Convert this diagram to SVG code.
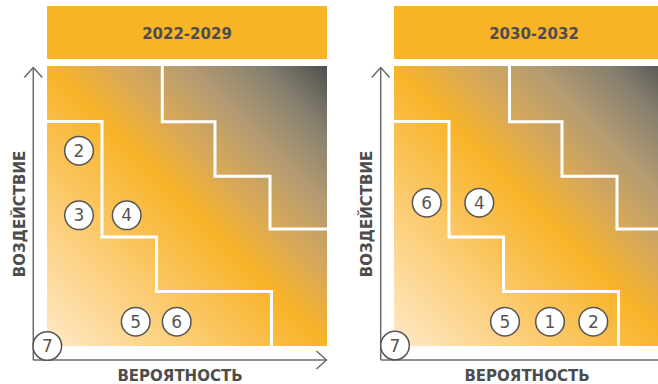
<svg xmlns="http://www.w3.org/2000/svg" width="658" height="384" viewBox="0 0 658 384">
  <defs>
    <linearGradient id="heat" x1="0" y1="1" x2="1" y2="0">
      <stop offset="0" stop-color="#ffe9c8"/>
      <stop offset="0.5" stop-color="#f8b328"/>
      <stop offset="0.62" stop-color="#d9a958"/>
      <stop offset="0.75" stop-color="#b49b72"/>
      <stop offset="0.88" stop-color="#86806f"/>
      <stop offset="1" stop-color="#4f4f4f"/>
    </linearGradient>
    <marker id="chev" viewBox="0 0 12 20" refX="11" refY="10" markerWidth="12" markerHeight="20" markerUnits="userSpaceOnUse" orient="auto">
      <path d="M1,1 L11,10 L1,19" fill="none" stroke="#6b6b6b" stroke-width="1.5"/>
    </marker>
  </defs>
  <style>
    .hdr { fill: #f8b326; }
    .hdrtxt { font-family: "DejaVu Sans", "Liberation Sans", sans-serif; font-weight: bold; font-size: 15px; fill: #4d4d4d; text-anchor: middle; }
    .axlbl { font-family: "DejaVu Sans", "Liberation Sans", sans-serif; font-weight: bold; font-size: 15px; fill: #4d4d4d; text-anchor: middle; }
    .axis { fill: none; stroke: #6b6b6b; stroke-width: 1.5; }
    .step { fill: none; stroke: #ffffff; stroke-width: 3; }
    .node circle { fill: #ffffff; stroke: #555555; stroke-width: 1.5; }
    .node text { font-family: "DejaVu Sans", "Liberation Sans", sans-serif; font-size: 17px; fill: #555555; text-anchor: middle; }
  </style>

  <!-- Left panel -->
  <g id="panel-2022">
    <rect class="hdr" x="47" y="6" width="280" height="53"/>
    <text class="hdrtxt" x="187" y="38.5">2022-2029</text>
    <rect x="47" y="66" width="280" height="280" fill="url(#heat)"/>
    <text class="axlbl" transform="translate(24.5,214) rotate(-90)">ВОЗДЕЙСТВИЕ</text>
    <text class="axlbl" x="180" y="381">ВЕРОЯТНОСТЬ</text>
  </g>

  <!-- Right panel -->
  <g id="panel-2030">
    <rect class="hdr" x="394" y="6" width="280" height="53"/>
    <text class="hdrtxt" x="534" y="38.5">2030-2032</text>
    <rect x="394" y="66" width="280" height="280" fill="url(#heat)"/>
    <text class="axlbl" transform="translate(372,214) rotate(-90)">ВОЗДЕЙСТВИЕ</text>
    <text class="axlbl" x="527" y="381">ВЕРОЯТНОСТЬ</text>
  </g>

  <g id="connectors">
    <!-- left axes -->
    <path class="axis" d="M33.3,360 L33.3,67.5" marker-end="url(#chev)"/>
    <path class="axis" d="M33.3,360 L326.5,360" marker-end="url(#chev)"/>
    <!-- right axes -->
    <path class="axis" d="M380.7,360 L380.7,67.5" marker-end="url(#chev)"/>
    <path class="axis" d="M380.7,360 L660,360"/>
    <!-- left steps -->
    <path class="step" d="M47,121.5 L102,121.5 L102,237 L156.5,237 L156.5,291.5 L271.5,291.5 L271.5,346"/>
    <path class="step" d="M162.3,66 L162.3,121.7 L215,121.7 L215,176.3 L270,176.3 L270,229 L327,229"/>
    <!-- right steps -->
    <path class="step" d="M394,121.5 L449,121.5 L449,237 L503.5,237 L503.5,291.5 L618.5,291.5 L618.5,346"/>
    <path class="step" d="M509.5,66 L509.5,121.7 L562,121.7 L562,176.3 L617,176.3 L617,229 L674,229"/>
  </g>

  <!-- Left nodes -->
  <g id="l2" class="node"><circle cx="79" cy="150.7" r="14.3"/><text x="79" y="156.8">2</text></g>
  <g id="l3" class="node"><circle cx="79" cy="215.3" r="14.3"/><text x="79" y="221.4">3</text></g>
  <g id="l4" class="node"><circle cx="126.7" cy="215.3" r="14.3"/><text x="126.7" y="221.4">4</text></g>
  <g id="l5" class="node"><circle cx="135.7" cy="321.7" r="14.3"/><text x="135.7" y="327.8">5</text></g>
  <g id="l6" class="node"><circle cx="176.7" cy="321.7" r="14.3"/><text x="176.7" y="327.8">6</text></g>
  <g id="l7" class="node"><circle cx="47.3" cy="346" r="14.3"/><text x="47.3" y="352.1">7</text></g>

  <!-- Right nodes -->
  <g id="r6" class="node"><circle cx="426.7" cy="202.7" r="14.3"/><text x="426.7" y="208.8">6</text></g>
  <g id="r4" class="node"><circle cx="479.3" cy="202.7" r="14.3"/><text x="479.3" y="208.8">4</text></g>
  <g id="r5" class="node"><circle cx="505" cy="321.7" r="14.3"/><text x="505" y="327.8">5</text></g>
  <g id="r1" class="node"><circle cx="550" cy="321.7" r="14.3"/><text x="550" y="327.8">1</text></g>
  <g id="r2" class="node"><circle cx="593.3" cy="321.7" r="14.3"/><text x="593.3" y="327.8">2</text></g>
  <g id="r7" class="node"><circle cx="395" cy="345.5" r="14.3"/><text x="395" y="351.6">7</text></g>
</svg>
